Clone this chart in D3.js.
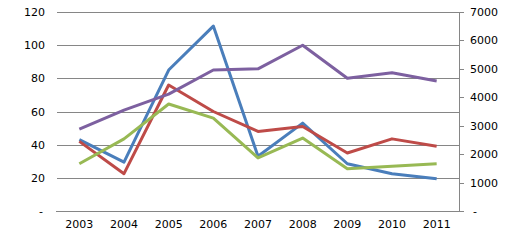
<!DOCTYPE html>
<html>
<head>
<meta charset="utf-8">
<script src="https://cdn.jsdelivr.net/npm/d3@7"></script>
<style>
  body { margin: 0; background: #fff; }
  text { font-family: "DejaVu Sans", Verdana, sans-serif; font-size: 11px; fill: #000; }
</style>
</head>
<body>
<div id="chart"></div>
<script>
// data
var years = ['2003', '2004', '2005', '2006', '2007', '2008', '2009', '2010', '2011'];
var blueVals = [43, 29.5, 85, 111.5, 33, 53, 28.5, 22.5, 19.5];
var redVals = [42, 22.5, 76, 60, 48, 51, 35, 43.5, 39];
var greenVals = [28.5, 43.5, 64.5, 56, 32, 44, 25.5, 27, 28.5];
// purple is read against the right axis
var purpleVals = [2880, 3550, 4110, 4960, 5000, 5830, 4670, 4860, 4570];
var leftTicks = [0, 20, 40, 60, 80, 100, 120];
var rightTicks = [0, 1000, 2000, 3000, 4000, 5000, 6000, 7000];

var width = 522, height = 243;
var margin = { left: 57, right: 63, top: 12, bottom: 32 };

var svg = d3.select('#chart').append('svg')
  .attr('width', width)
  .attr('height', height);

var x = d3.scaleBand()
  .domain(years)
  .range([margin.left, width - margin.right]);

var yL = d3.scaleLinear().domain([0, 120]).range([height - margin.bottom, margin.top]);
var yR = d3.scaleLinear().domain([0, 7000]).range([height - margin.bottom, margin.top]);

var fmt = function (d) { return d === 0 ? '-' : d3.format('d')(d); };

// gridlines + left labels
var gLeft = svg.append('g')
  .attr('transform', 'translate(' + margin.left + ',0)')
  .call(d3.axisLeft(yL).tickValues(leftTicks).tickFormat(fmt)
    .tickSize(-(width - margin.left - margin.right)).tickPadding(12));
gLeft.select('.domain').remove();
gLeft.selectAll('.tick line').attr('stroke', '#868686').attr('shape-rendering', 'crispEdges');
gLeft.selectAll('.tick text').attr('fill', '#000').style('font-size', '11px')
  .attr('dx', function (d) { return d === 0 ? -2 : 0; });

// right axis
var gRight = svg.append('g')
  .attr('transform', 'translate(' + (width - margin.right) + ',0)')
  .call(d3.axisRight(yR).tickValues(rightTicks).tickFormat(fmt).tickSize(5).tickPadding(6));
gRight.select('.domain').attr('stroke', '#868686').attr('shape-rendering', 'crispEdges');
gRight.selectAll('.tick line').attr('stroke', '#868686').attr('shape-rendering', 'crispEdges');
gRight.selectAll('.tick text').attr('fill', '#000').style('font-size', '11px')
  .attr('dx', function (d) { return d === 0 ? 3 : 0; });

// bottom axis
var gBottom = svg.append('g')
  .attr('transform', 'translate(0,' + (height - margin.bottom) + ')')
  .call(d3.axisBottom(x).tickSize(0).tickPadding(9));
gBottom.select('.domain').attr('stroke', '#868686').attr('shape-rendering', 'crispEdges')
  .attr('d', 'M' + (margin.left - 1) + ',0.5H' + (width - margin.right + 5));
gBottom.selectAll('.tick text').attr('fill', '#000').style('font-size', '11px');

var cx = function (i) { return x(years[i]) + x.bandwidth() / 2; };

function drawLine(vals, scale, color) {
  var line = d3.line()
    .x(function (d, i) { return cx(i); })
    .y(function (d) { return scale(d); });
  svg.append('path')
    .datum(vals)
    .attr('d', line)
    .attr('fill', 'none')
    .attr('stroke', color)
    .attr('stroke-width', 3)
    .attr('stroke-linejoin', 'round');
}

drawLine(blueVals, yL, '#4a7ebb');
drawLine(redVals, yL, '#be4b48');
drawLine(greenVals, yL, '#98b954');
drawLine(purpleVals, yR, '#7d60a0');
</script>
</body>
</html>
